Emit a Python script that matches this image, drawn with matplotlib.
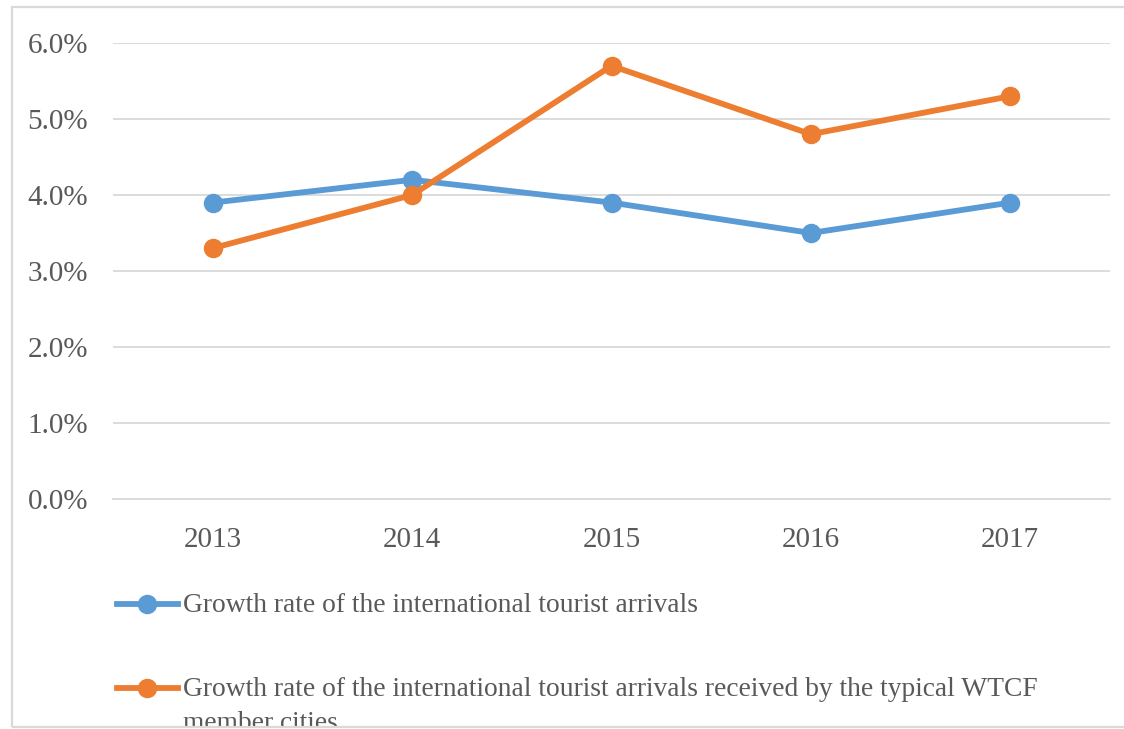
import matplotlib
matplotlib.use("Agg")
import matplotlib.pyplot as plt
from matplotlib.lines import Line2D
from matplotlib.patches import Rectangle
from matplotlib.ticker import FuncFormatter

# growth rates, percent
years = ["2013", "2014", "2015", "2016", "2017"]
world_growth = [3.9, 4.2, 3.9, 3.5, 3.9]
wtcf_growth = [3.3, 4.0, 5.7, 4.8, 5.3]
y_ticks = [0, 1, 2, 3, 4, 5, 6]

world_label = "Growth rate of the international tourist arrivals"
wtcf_label = ("Growth rate of the international tourist arrivals received by the typical WTCF\n"
              "member cities")

BLUE = "#5B9BD5"
ORANGE = "#ED7D31"
GRID = "#d9d9d9"
TEXT = "#595959"

plt.rcParams["font.family"] = ["Liberation Serif", "DejaVu Serif"]

W, H = 1124, 729
fig = plt.figure(figsize=(W / 100, H / 100), dpi=100)
fig.patch.set_facecolor("white")

# chart frame, with a white strip below it so the legend is cut at the border
fig.add_artist(Rectangle((0, 0), 1, 2 / H, transform=fig.transFigure,
                         facecolor="white", edgecolor="none", zorder=4))
fig.add_artist(Rectangle((12 / W, 2 / H), 1.2, 720 / H, transform=fig.transFigure,
                         fill=False, edgecolor=GRID, linewidth=1.6, zorder=5))

ax = fig.add_axes([113 / W, 230 / H, 997 / W, 456 / H])
x = range(len(years))
ax.plot(x, world_growth, color=BLUE, lw=4.2, marker="o", ms=13, solid_capstyle="round", zorder=3)
ax.plot(x, wtcf_growth, color=ORANGE, lw=4.2, marker="o", ms=13, solid_capstyle="round", zorder=3)

ax.set_xlim(-0.5, len(years) - 0.5)
ax.set_ylim(0, 6)
ax.set_yticks(y_ticks)
ax.yaxis.set_major_formatter(FuncFormatter(lambda v, _: f"{v:.1f}%"))
ax.set_xticks(list(x))
ax.set_xticklabels(years)
ax.grid(axis="y", color=GRID, lw=1.3)
ax.set_axisbelow(True)
for s in ["top", "right", "left"]:
    ax.spines[s].set_visible(False)
ax.spines["bottom"].set_color(GRID)
ax.spines["bottom"].set_linewidth(1.3)
ax.tick_params(axis="both", length=0, labelsize=21, colors=TEXT)
ax.tick_params(axis="y", pad=18)
ax.tick_params(axis="x", pad=20)

# legend drawn by hand below the plot
def legend_row(y_px, color, label):
    yf = 1 - y_px / H
    fig.add_artist(Line2D([117 / W, 178 / W], [yf, yf], transform=fig.transFigure,
                          color=color, lw=4.2))
    fig.add_artist(Line2D([147 / W], [yf], transform=fig.transFigure,
                          color=color, marker="o", ms=13))
    fig.text(183 / W, yf + 11 / H, label, color=TEXT, fontsize=19.8, va="top",
             ha="left", linespacing=1.5, transform=fig.transFigure, zorder=3)

legend_row(604, BLUE, world_label)
legend_row(688, ORANGE, wtcf_label)

fig.savefig("out.png", dpi=100, facecolor="white")
